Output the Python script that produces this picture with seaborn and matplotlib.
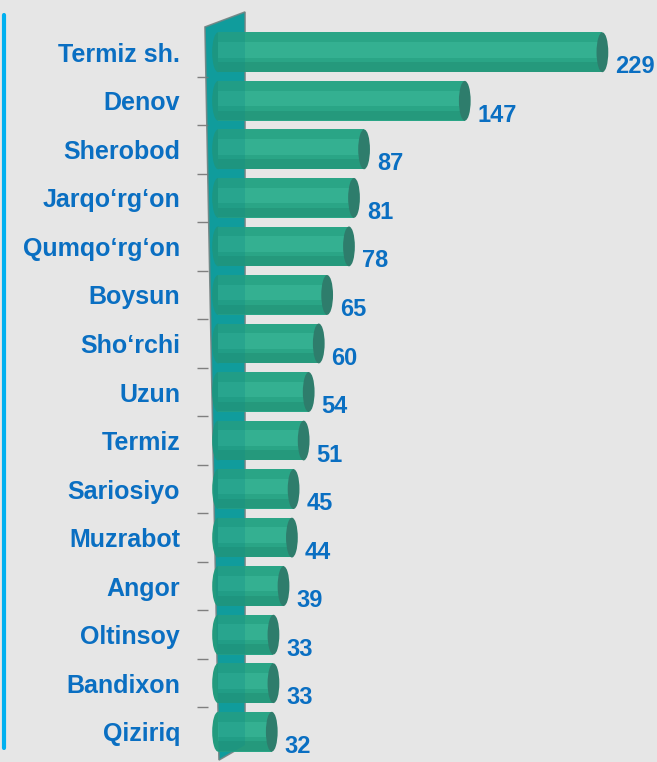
import matplotlib
matplotlib.use("Agg")
from matplotlib import pyplot as plt
from matplotlib.patches import Ellipse, Polygon
from matplotlib.lines import Line2D
import numpy as np
import pandas as pd
import seaborn as sns

# Data
districts = ["Termiz sh.", "Denov", "Sherobod", "Jarqo\u2018rg\u2018on", "Qumqo\u2018rg\u2018on",
             "Boysun", "Sho\u2018rchi", "Uzun", "Termiz", "Sariosiyo", "Muzrabot",
             "Angor", "Oltinsoy", "Bandixon", "Qiziriq"]
counts = [229, 147, 87, 81, 78, 65, 60, 54, 51, 45, 44, 39, 33, 33, 32]

df = pd.DataFrame({"district": districts, "count": counts})

W, H = 657, 762
bg = "#E6E6E6"
bar_col = "#2AA586"
cap_col = "#2E7D6C"
wall_col = "#11A3A6"
txt_col = "#0A6FC2"

sns.set_theme(style="white")
plt.rcParams["font.family"] = ["Liberation Sans", "DejaVu Sans"]

fig = plt.figure(figsize=(W / 100, H / 100), dpi=100)
fig.patch.set_facecolor(bg)
ax = fig.add_axes([208 / W, 1 - 756 / H, (641 - 208) / W, (756 - 28) / H])
ax.set_facecolor("none")

# back wall
def px(x, y):
    return (x / W, 1 - y / H)
wall_pts = [px(205, 27), px(245, 12), px(245, 745), px(219, 760)]
fig.add_artist(Polygon(wall_pts, closed=True, transform=fig.transFigure,
                       facecolor=wall_col, edgecolor="#7F8A8A", linewidth=1.2, zorder=-1))
fig.add_artist(Polygon(wall_pts, closed=True, transform=fig.transFigure,
                       facecolor="#0E8C88", alpha=0.3, edgecolor="none", zorder=5))
fig.add_artist(Line2D([4 / W, 4 / W], [1 - 15 / H, 1 - 748 / H], color="#00B0F0",
                      linewidth=3, transform=fig.transFigure))

sns.barplot(data=df, y="district", x="count", orient="h", color=bar_col,
            width=0.82, saturation=1, linewidth=0, edgecolor="none", ax=ax, zorder=2)
# shading bands
ax.barh(np.arange(len(counts)) - 0.05, counts, height=0.32, color="#3BB99A",
        alpha=0.6, zorder=3, linewidth=0)
ax.barh(np.arange(len(counts)) + 0.3, counts, height=0.2, color="#1F8C72",
        alpha=0.45, zorder=3, linewidth=0)

for i, v in enumerate(counts):
    ax.add_patch(Ellipse((v, i), width=7, height=0.82, facecolor=cap_col,
                         edgecolor="none", zorder=4))
    ax.add_patch(Ellipse((0, i), width=7, height=0.82, facecolor="#239B7E",
                         edgecolor="none", zorder=1.9))
    ax.annotate(str(v), (v + 3.5, i + 0.3), xytext=(5, 0), textcoords="offset points",
                color=txt_col, fontsize=17, fontweight="bold", va="center", ha="left",
                zorder=5)

ax.set_xlim(-6, 252)
ax.set_ylim(14.5, -0.5)
ax.set_xlabel("")
ax.set_ylabel("")
ax.set_xticks([])
ax.set_yticks(np.arange(len(districts)))
ax.set_yticklabels(districts, color=txt_col, fontsize=18, fontweight="bold")
ax.set_yticks(np.arange(len(districts) - 1) + 0.5, minor=True)
ax.tick_params(axis="y", which="major", length=0, pad=20)
ax.tick_params(axis="y", which="minor", length=8, width=1, color="#7F7F7F", left=True)
for s in ax.spines.values():
    s.set_visible(False)

fig.savefig("out.png", dpi=100, facecolor=bg)
